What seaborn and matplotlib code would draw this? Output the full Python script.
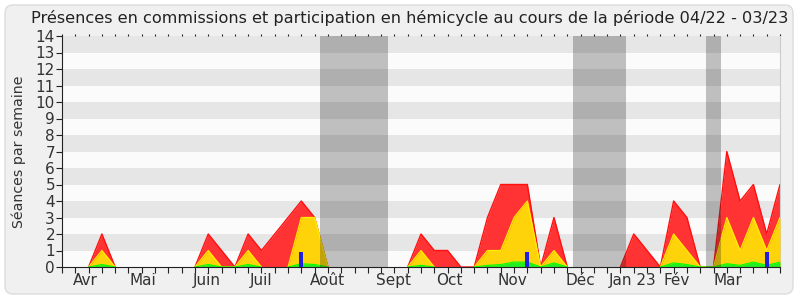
import numpy as np
import pandas as pd
import seaborn as sns
import matplotlib
matplotlib.use("Agg")
import matplotlib.pyplot as plt
from matplotlib.patches import FancyBboxPatch
from matplotlib.transforms import IdentityTransform

# ---- data (weekly values, 55 weeks from 04/22 to 03/23) ----
weeks = list(range(55))
red_vals = [0, 0, 0, 2, 0, 0, 0, 0, 0, 0, 0, 2, 1, 0, 2, 1, 2, 3, 4, 3,
            0, 0, 0, 0, 0, 0, 0, 2, 1, 1, 0, 0, 3, 5, 5, 5, 0, 3, 0, 0,
            0, 0, 0, 2, 1, 0, 4, 3, 0, 0, 7, 4, 5, 2, 5]
yellow_vals = [0, 0, 0, 1, 0, 0, 0, 0, 0, 0, 0, 1, 0, 0, 1, 0, 0, 0, 3, 3,
               0, 0, 0, 0, 0, 0, 0, 1, 0, 0, 0, 0, 1, 1, 3, 4, 0, 1, 0, 0,
               0, 0, 0, 0, 0, 0, 2, 1, 0, 0, 3, 1, 3, 1, 3]
green_vals = [0, 0, 0, 0.15, 0, 0, 0, 0, 0, 0, 0, 0.15, 0, 0, 0.15, 0, 0, 0, 0.2, 0.15,
              0, 0, 0, 0, 0, 0, 0, 0.1, 0, 0, 0, 0, 0.1, 0.15, 0.3, 0.3, 0, 0.25, 0, 0,
              0, 0, 0, 0, 0, 0, 0.25, 0.15, 0, 0, 0.2, 0.1, 0.3, 0.1, 0.3]
blue_weeks = [18, 35, 53]
blue_vals = [0.9, 0.9, 0.9]
vacations = [(19.4, 24.5), (38.4, 42.45), (48.4, 49.55)]
month_labels = ["Avr", "Mai", "Juin", "Juil", "Août", "Sept", "Oct", "Nov",
                "Déc", "Jan 23", "Fév", "Mar"]
month_pos = [1.75, 6.05, 10.9, 14.95, 19.95, 24.9, 29.1, 33.9, 38.95, 42.9, 46.2, 50.1]
title = "Présences en commissions et participation en hémicycle au cours de la période 04/22 - 03/23"
ylabel = "Séances par semaine"

df = pd.DataFrame({"week": weeks, "red": red_vals, "yellow": yellow_vals, "green": green_vals})


def outline_frame(col):
    v = df[col]
    keep = ~((v == 0) & (v.shift(1).fillna(0) == 0) & (v.shift(-1).fillna(0) == 0))
    seg = (keep != keep.shift(1)).cumsum()
    out = pd.DataFrame({"week": df["week"], "val": v, "seg": seg})
    return out[keep]


sns.set_style("white")
plt.rcParams["font.family"] = ["DejaVu Sans"]

fig = plt.figure(figsize=(8, 3), dpi=100)
fig.patch.set_facecolor("white")
box = FancyBboxPatch((5, 6), 788, 289, boxstyle="round,pad=0,rounding_size=8",
                     transform=IdentityTransform(), facecolor="#f0f0f0",
                     edgecolor="#dcdcdc", linewidth=1, zorder=-10)
fig.patches.append(box)

ax = fig.add_axes([62 / 800, 33 / 300, 718 / 800, 231 / 300])
ax.set_facecolor("#fbfbfb")
for k in range(1, 14, 2):
    ax.axhspan(k, k + 1, color="#e6e6e6", zorder=0, lw=0)

# areas
layers = [("red", "#ff3333", "#ff1010", 1.0), ("yellow", "#ffd30a", "#ffee00", 0.9),
          ("green", "#22ee22", "#00ff00", 0.8)]
z = 2
for col, fillc, linec, lw in layers:
    ax.fill_between(df["week"], 0, df[col], color=fillc, lw=0, zorder=z)
    sns.lineplot(data=outline_frame(col), x="week", y="val", units="seg", estimator=None,
                 ax=ax, color=linec, lw=lw, zorder=z + 1)
    z += 2
ax.bar(blue_weeks, blue_vals, width=0.3, color="#2020dd", lw=0, zorder=8)

for a, b in vacations:
    ax.axvspan(a, b, color="#131313", alpha=0.26, lw=0, zorder=9)

ax.set_xlim(0, 54)
ax.set_ylim(0, 14)
ax.set_xlabel("")
ax.set_ylabel(ylabel, fontsize=10.2, color="#333333", labelpad=7)

ax.set_xticks(weeks)
ax.set_xticklabels([])
ax.set_xticks(month_pos, minor=True)
ax.set_xticklabels(month_labels, minor=True, fontsize=11, color="#333333")
ax.tick_params(axis="x", which="major", bottom=True, top=True, length=4, width=0.8,
               direction="out", color="#222222")
ax.tick_params(axis="x", which="minor", bottom=False, top=False, length=0, pad=4)
ax.set_yticks(range(15))
ax.set_yticklabels([str(v) for v in range(15)], fontsize=11, color="#333333")
ax.tick_params(axis="y", left=True, length=4, width=0.8, color="#222222", pad=1)
for t in ax.xaxis.get_major_ticks():
    t.tick2line.set_markersize(1.2)

ax.spines["top"].set_visible(False)
ax.spines["right"].set_color("#cccccc")
ax.spines["left"].set_color("#222222")
ax.spines["bottom"].set_color("#222222")
ax.spines["left"].set_linewidth(0.8)
ax.spines["bottom"].set_linewidth(0.8)
ax.spines["bottom"].set_zorder(12)

fig.text(410 / 800, 1 - 18 / 300, title, ha="center", va="center", fontsize=11.6, color="#222222")

fig.savefig("out.png", dpi=100, facecolor=fig.get_facecolor())
